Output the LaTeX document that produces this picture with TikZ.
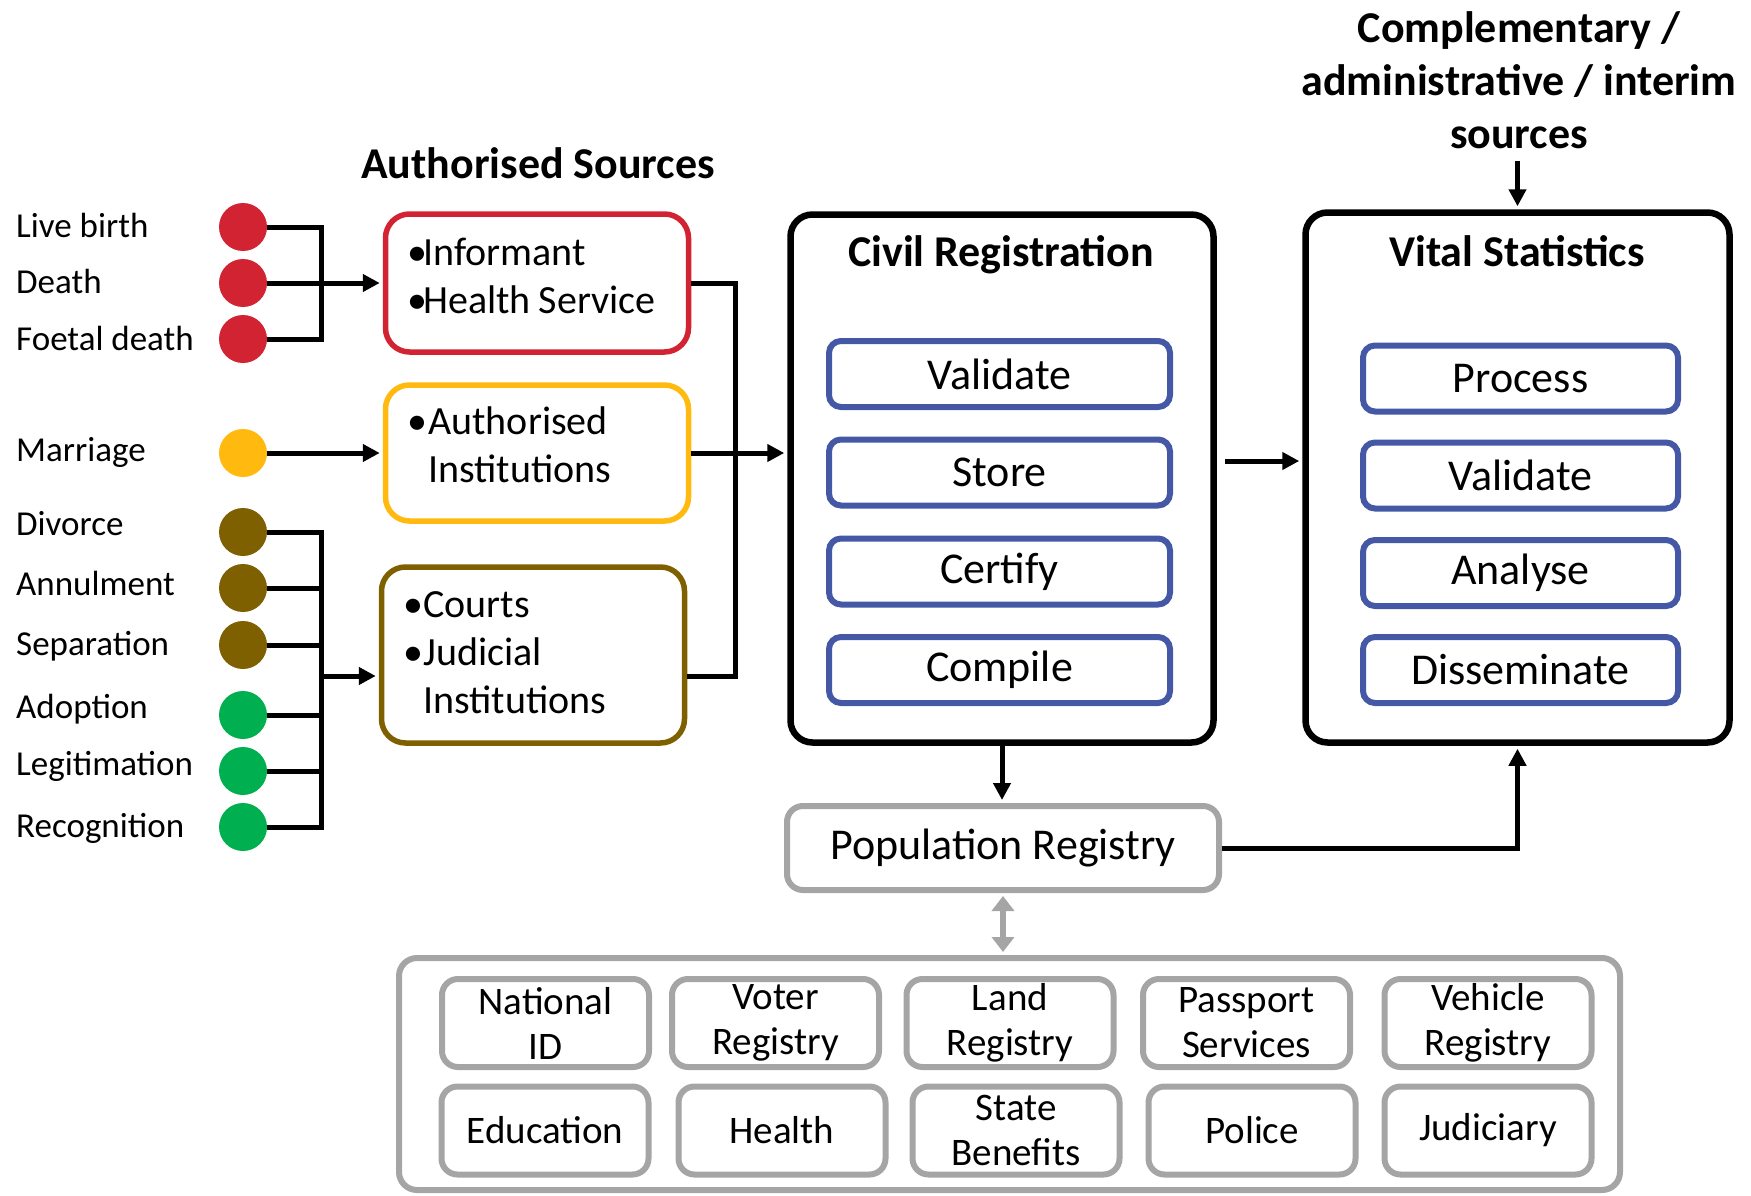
\documentclass[tikz,border=0pt]{standalone}
\usepackage{fontspec}
\setmainfont{Carlito}
\usetikzlibrary{arrows.meta}
\definecolor{cred}{RGB}{210,35,50}
\definecolor{cyel}{RGB}{255,185,15}
\definecolor{cbrown}{RGB}{127,96,0}
\definecolor{cgreen}{RGB}{0,176,80}
\definecolor{cblue}{RGB}{68,88,166}
\definecolor{cgray}{RGB}{165,165,165}
\begin{document}
\begin{tikzpicture}[x=1pt,y=-1pt,
  lab/.style={anchor=west,inner sep=0pt,font=\fontsize{35pt}{42pt}\selectfont},
  dot/.style={circle,inner sep=0pt,minimum size=48pt,fill=#1,draw=none},
  src/.style={draw=#1,line width=5.5pt,rounded corners=24pt,align=left,
    font=\fontsize{40pt}{48pt}\selectfont,text width=259pt,inner xsep=22pt,inner ysep=0pt},
  big/.style={draw=black,line width=6.5pt,rounded corners=22pt},
  ttl/.style={inner sep=0pt,font=\bfseries\fontsize{44pt}{53pt}\selectfont,align=center},
  stepbox/.style={draw=cblue,line width=6pt,rounded corners=12pt,minimum height=66pt,
    inner sep=0pt,font=\fontsize{44pt}{50pt}\selectfont},
  prbox/.style={draw=cgray,line width=6pt,rounded corners=16pt,inner sep=0pt,
    font=\fontsize{44pt}{50pt}\selectfont},
  gbox/.style={draw=cgray,line width=6pt,rounded corners=16pt,minimum width=207pt,
    minimum height=88pt,align=center,inner sep=0pt,font=\fontsize{39pt}{45pt}\selectfont},
  conn/.style={line width=5pt},
  arr/.style={conn,-{Triangle[length=17pt,width=17pt]},shorten >=3pt},
  garr/.style={draw=cgray,line width=6pt,{Triangle[length=15pt,width=22pt]}-{Triangle[length=15pt,width=22pt]},shorten >=3pt,shorten <=3pt}
]
\useasboundingbox (0,0) rectangle (1751,1196);

% titles
\node[ttl] (ast) at (538,163) {Authorised Sources};
\node[ttl] (comp) at (1519,80) {Complementary /\\administrative / interim\\sources};

% event labels and dots
\node[lab] (l1) at (16,225) {Live birth};
\node[lab] (l2) at (16,281) {Death};
\node[lab] (l3) at (16,338) {Foetal death};
\node[lab] (l4) at (16,452) {Marriage};
\node[lab] (l5) at (16,524) {Divorce};
\node[lab] (l6) at (16,583) {Annulment};
\node[lab] (l7) at (16,646) {Separation};
\node[lab] (l8) at (16,709) {Adoption};
\node[lab] (l9) at (16,766) {Legitimation};
\node[lab] (l10) at (16,828) {Recognition};

\node[dot=cred] (c1) at (243,227) {};
\node[dot=cred] (c2) at (243,283) {};
\node[dot=cred] (c3) at (243,339) {};
\node[dot=cyel] (c4) at (243,453) {};
\node[dot=cbrown] (d1) at (243,532) {};
\node[dot=cbrown] (d2) at (243,588) {};
\node[dot=cbrown] (d3) at (243,645) {};
\node[dot=cgreen] (d4) at (243,715) {};
\node[dot=cgreen] (d5) at (243,771) {};
\node[dot=cgreen] (d6) at (243,827) {};

% source boxes
\node[src=cred,minimum height=138pt] (inf) at (537,283)
  {\mbox{\textbullet\kern-4pt Informant}\\\mbox{\textbullet\kern-4pt Health\hspace{0.2em}Service}\rule[-14pt]{0pt}{14pt}};
\node[src=cyel,minimum height=136pt] (yel) at (537,453)
  {\mbox{\textbullet\kern1pt Authorised}\\\mbox{\hphantom{\textbullet\kern1pt}Institutions}\rule[-17pt]{0pt}{17pt}};
\node[src=cbrown,minimum height=176pt] (court) at (533,655)
  {\mbox{\textbullet Courts}\\\mbox{\textbullet Judicial}\\\mbox{\hphantom{\textbullet}Institutions}\rule[-5pt]{0pt}{5pt}};

% civil registration
\node[big,minimum width=423pt,minimum height=528pt] (cr) at (1002,478.5) {};
\node[ttl] (crt) at (1001,255) {Civil Registration};
\node[stepbox,minimum width=341pt] (cr1) at (999.5,374) {Validate};
\node[stepbox,minimum width=341pt] (cr2) at (999.5,472.5) {Store};
\node[stepbox,minimum width=341pt] (cr3) at (999.5,571.5) {Certify};
\node[stepbox,minimum width=341pt] (cr4) at (999.5,670) {Compile};

% vital statistics
\node[big,minimum width=424pt,minimum height=530pt] (vs) at (1517.5,477.5) {};
\node[ttl] (vst) at (1517,251) {Vital Statistics};
\node[stepbox,minimum width=315pt] (vs1) at (1520.5,378.5) {Process};
\node[stepbox,minimum width=315pt] (vs2) at (1520.5,475.5) {Validate};
\node[stepbox,minimum width=315pt] (vs3) at (1520.5,573) {Analyse};
\node[stepbox,minimum width=315pt] (vs4) at (1520.5,670) {Disseminate};

% population registry
\node[prbox,minimum width=432pt,minimum height=84pt] (pr) at (1003,848) {Population Registry};

% registers
\node[draw=cgray,line width=6pt,rounded corners=18pt,minimum width=1221pt,minimum height=232pt] (reg) at (1009.5,1074) {};
\node[gbox] (g1) at (545.5,1023) {National\\ID};
\node[gbox] (g2) at (775.5,1023) {Voter\\Registry};
\node[gbox] (g3) at (1010,1023) {Land\\Registry};
\node[gbox] (g4) at (1246.5,1023) {Passport\\Services};
\node[gbox] (g5) at (1488,1023) {Vehicle\\Registry};
\node[gbox] (g6) at (545,1130.5) {Education};
\node[gbox] (g7) at (782,1130.5) {Health};
\node[gbox] (g8) at (1016,1130.5) {State\\Benefits};
\node[gbox] (g9) at (1252,1130.5) {Police};
\node[gbox] (g10) at (1488,1130.5) {Judiciary};

% connectors: left buses
\coordinate (bA) at (321,0);
\draw[conn] (c1.east) -- (c1.east -| bA) -- (c3.east -| bA) -- (c3.east);
\draw[arr] (c2.east) -- (inf.west);
\draw[arr] (c4.east) -- (yel.west);
\draw[conn] (d1.east) -- (d1.east -| bA) -- (d6.east -| bA) -- (d6.east);
\foreach \n in {d2,d3,d4,d5} \draw[conn] (\n.east) -- (\n.east -| bA);
\coordinate (jin) at (321,676);
\draw[arr] (jin) -- (jin -| court.west);

% right bus to civil registration
\coordinate (bB) at (735,0);
\coordinate (jout) at (0,676);
\draw[conn] (inf.east) -- (inf.east -| bB) -- (bB |- jout) -- (jout -| court.east);
\draw[arr] (yel.east) -- (yel.east -| cr.west);

% main flow
\coordinate (h461) at (0,461);
\draw[arr,shorten <=8pt] (cr.east |- h461) -- (vs.west |- h461);
\draw[arr,shorten <=12pt] (comp.south -| vs.north) -- (vs.north);
\draw[arr] (cr.south) -- (cr.south |- pr.north);
\draw[arr] (pr.east) -| (vs.south);
\draw[garr] (pr.south) -- (pr.south |- reg.north);
\end{tikzpicture}
\end{document}
